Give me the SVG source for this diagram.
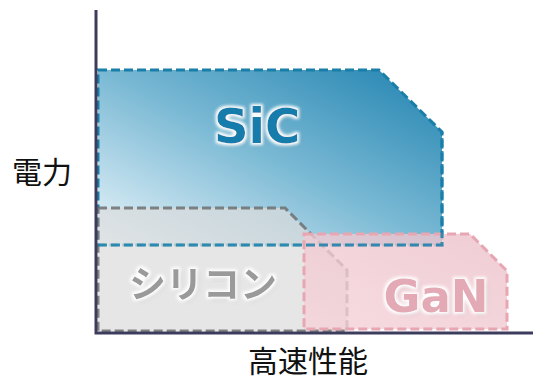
<svg xmlns="http://www.w3.org/2000/svg" width="533" height="378" viewBox="0 0 533 378">
<style>
.axis{stroke:#3c3c5e;stroke-width:3;fill:none}
.lbl{font-family:"Noto Sans CJK JP","Noto Sans",sans-serif;font-size:30px;fill:#111;text-anchor:middle}
.big{font-family:"DejaVu Sans","Noto Sans CJK JP",sans-serif;font-weight:bold;text-anchor:middle}
.dash{stroke-width:3;stroke-dasharray:9,4}
</style>
<defs>
<linearGradient id="gSiC" x1="0" y1="1" x2="1" y2="0">
<stop offset="0" stop-color="#eaf5fb"/>
<stop offset="0.5" stop-color="#7ab9d4"/>
<stop offset="1" stop-color="#1f82b0"/>
</linearGradient>
<linearGradient id="gGaN" x1="0" y1="1" x2="1" y2="0">
<stop offset="0" stop-color="#f5d3da"/>
<stop offset="1" stop-color="#ecc0ca"/>
</linearGradient>
<filter id="glow" x="-20%" y="-30%" width="140%" height="160%">
<feGaussianBlur in="SourceAlpha" stdDeviation="2" result="b"/>
<feOffset in="b" dx="1.5" dy="2" result="o"/>
<feFlood flood-color="#000" flood-opacity="0.35"/>
<feComposite in2="o" operator="in" result="sh"/>
<feMorphology in="SourceAlpha" operator="dilate" radius="2" result="d"/>
<feGaussianBlur in="d" stdDeviation="1.5" result="db"/>
<feFlood flood-color="#fff"/>
<feComposite in2="db" operator="in" result="w"/>
<feMerge><feMergeNode in="sh"/><feMergeNode in="w"/><feMergeNode in="SourceGraphic"/></feMerge>
</filter>
</defs>
<g id="sic">
<polygon points="98,70 379,70 442,132 442,245 98,245" fill="url(#gSiC)" stroke="#1a7fa8" class="dash"/>
<text class="big" x="257" y="143" font-size="48" fill="#167bab" filter="url(#glow)">SiC</text>
</g>
<g id="silicon">
<polygon points="98,208 285,208 347,270 347,331 98,331" fill="#dcdcdc" fill-opacity="0.7" stroke="#6e7070" stroke-opacity="0.85" class="dash"/>
<text class="big" x="203" y="298" font-size="37" fill="#9a9a9a" filter="url(#glow)" font-family="Noto Sans CJK JP, sans-serif" font-weight="900">シリコン</text>
</g>
<g id="gan">
<polygon points="304,234 470,234 507,271 507,329 304,329" fill="url(#gGaN)" fill-opacity="0.8" stroke="#e8a5b2" class="dash"/>
<text class="big" x="436" y="312" font-size="45" fill="#e3a9b5" filter="url(#glow)">GaN</text>
</g>
<g id="sic-outline">
<polyline points="98,245 442,245 442,132" fill="none" stroke="#1a7fa8" stroke-opacity="0.85" class="dash"/>
</g>
<g id="axes">
<polyline class="axis" points="96,10 96,333 533,333"/>
</g>
<text class="lbl" x="42" y="183">電力</text>
<text class="lbl" x="308" y="372">高速性能</text>
</svg>
